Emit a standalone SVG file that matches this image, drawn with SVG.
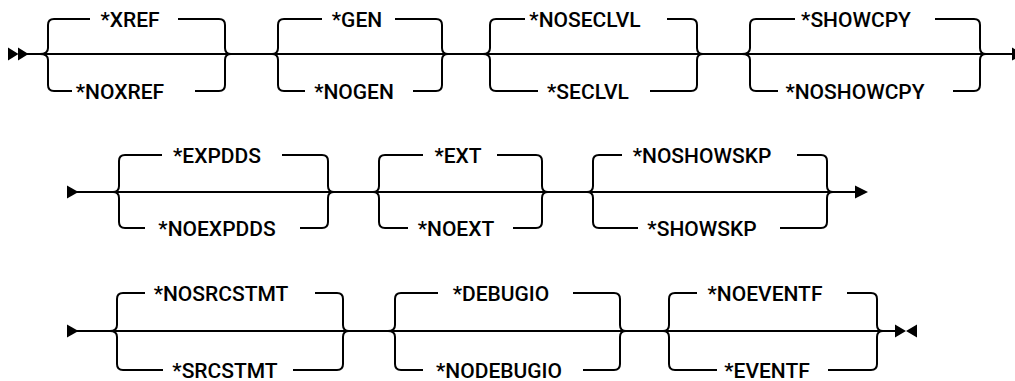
<svg xmlns="http://www.w3.org/2000/svg" width="1015" height="381" viewBox="0 0 1015 381">
<style>
.br{fill:none;stroke:#000;stroke-width:2;stroke-linejoin:round}
.ml{fill:none;stroke:#000;stroke-width:2}
.ar{fill:#000;stroke:none}
text{font-family:Roboto,"Liberation Sans",Arial,sans-serif;font-weight:500;font-size:21px;fill:#000;text-anchor:middle}
</style>
<rect width="1015" height="381" fill="#fff"/>
<g id="connectors">
<line class="ml" x1="26" y1="54" x2="1013" y2="54"/>
<path class="ar" d="M8,47.5 L18.5,54 L8,60.5 Z M18,47.5 L28.5,54 L18,60.5 Z"/>
<path class="ar" d="M1012,47.5 L1024,54 L1012,60.5 Z"/>
<line class="ml" x1="76" y1="192" x2="856" y2="192"/>
<path class="ar" d="M67,185.5 L78.5,192 L67,198.5 Z"/>
<path class="ar" d="M855,185.5 L868,192 L855,198.5 Z"/>
<line class="ml" x1="76" y1="331" x2="897" y2="331"/>
<path class="ar" d="M67,324.5 L78.5,331 L67,337.5 Z"/>
<path class="ar" d="M895,324.5 L906,331 L895,337.5 Z M917,324.5 L906,331 L917,337.5 Z"/>
</g>
<g id="xref">
<path class="br" d="M40,54 Q48,54 48,48 V25 Q48,19 54,19 H90 M40,54 Q48,54 48,60 V85 Q48,91 54,91 H72 M178,19 H219 Q225,19 225,25 V48 Q225,54 231,54 M195,91 H219 Q225,91 225,85 V60 Q225,54 231,54"/>
<text x="130" y="26.5">*XREF</text>
<text x="120" y="98.5">*NOXREF</text>
</g>
<g id="gen">
<path class="br" d="M272,54 Q278,54 278,48 V25 Q278,19 284,19 H322 M272,54 Q278,54 278,60 V85 Q278,91 284,91 H305 M395,19 H436 Q442,19 442,25 V48 Q442,54 448,54 M413,91 H436 Q442,91 442,85 V60 Q442,54 448,54"/>
<text x="357" y="26.5">*GEN</text>
<text x="354" y="98.5">*NOGEN</text>
</g>
<g id="seclvl">
<path class="br" d="M483,54 Q490,54 490,48 V25 Q490,19 496,19 H525 M483,54 Q490,54 490,60 V85 Q490,91 496,91 H538 M667,19 H691 Q697,19 697,25 V48 Q697,54 703,54 M650,91 H691 Q697,91 697,85 V60 Q697,54 703,54"/>
<text x="585" y="26.5">*NOSECLVL</text>
<text x="588" y="98.5">*SECLVL</text>
</g>
<g id="showcpy">
<path class="br" d="M742,54 Q750,54 750,48 V25 Q750,19 756,19 H795 M742,54 Q750,54 750,60 V85 Q750,91 756,91 H778 M935,19 H974 Q980,19 980,25 V48 Q980,54 986,54 M953,91 H974 Q980,91 980,85 V60 Q980,54 986,54"/>
<text x="856" y="26.5">*SHOWCPY</text>
<text x="855" y="98.5">*NOSHOWCPY</text>
</g>
<g id="expdds">
<path class="br" d="M113,192 Q119,192 119,186 V161 Q119,155 125,155 H162 M113,192 Q119,192 119,198 V222 Q119,228 125,228 H145 M282,155 H322 Q328,155 328,161 V186 Q328,192 334,192 M300,228 H322 Q328,228 328,222 V198 Q328,192 334,192"/>
<text x="217" y="162.5">*EXPDDS</text>
<text x="217" y="235.5">*NOEXPDDS</text>
</g>
<g id="ext">
<path class="br" d="M373,192 Q379,192 379,186 V161 Q379,155 385,155 H423 M373,192 Q379,192 379,198 V222 Q379,228 385,228 H408 M497,155 H536 Q542,155 542,161 V186 Q542,192 548,192 M513,228 H536 Q542,228 542,222 V198 Q542,192 548,192"/>
<text x="458" y="162.5">*EXT</text>
<text x="456" y="235.5">*NOEXT</text>
</g>
<g id="showskp">
<path class="br" d="M587,192 Q593,192 593,186 V161 Q593,155 599,155 H622 M587,192 Q593,192 593,198 V222 Q593,228 599,228 H638 M797,155 H821 Q827,155 827,161 V186 Q827,192 833,192 M780,228 H821 Q827,228 827,222 V198 Q827,192 833,192"/>
<text x="702" y="162.5">*NOSHOWSKP</text>
<text x="702" y="235.5">*SHOWSKP</text>
</g>
<g id="srcstmt">
<path class="br" d="M110,331 Q117,331 117,325 V299 Q117,293 123,293 H145 M110,331 Q117,331 117,337 V364 Q117,370 123,370 H163 M315,293 H337 Q343,293 343,299 V325 Q343,331 349,331 M293,370 H337 Q343,370 343,364 V337 Q343,331 349,331"/>
<text x="221" y="300.5">*NOSRCSTMT</text>
<text x="225" y="377.5">*SRCSTMT</text>
</g>
<g id="debugio">
<path class="br" d="M388,331 Q395,331 395,325 V299 Q395,293 401,293 H438 M388,331 Q395,331 395,337 V364 Q395,370 401,370 H423 M573,293 H614 Q620,293 620,299 V325 Q620,331 626,331 M583,370 H614 Q620,370 620,364 V337 Q620,331 626,331"/>
<text x="501" y="300.5">*DEBUGIO</text>
<text x="499" y="377.5">*NODEBUGIO</text>
</g>
<g id="eventf">
<path class="br" d="M663,331 Q669,331 669,325 V299 Q669,293 675,293 H697 M663,331 Q669,331 669,337 V364 Q669,370 675,370 H717 M847,293 H871 Q877,293 877,299 V325 Q877,331 883,331 M828,370 H871 Q877,370 877,364 V337 Q877,331 883,331"/>
<text x="765" y="300.5">*NOEVENTF</text>
<text x="767" y="377.5">*EVENTF</text>
</g>
</svg>
